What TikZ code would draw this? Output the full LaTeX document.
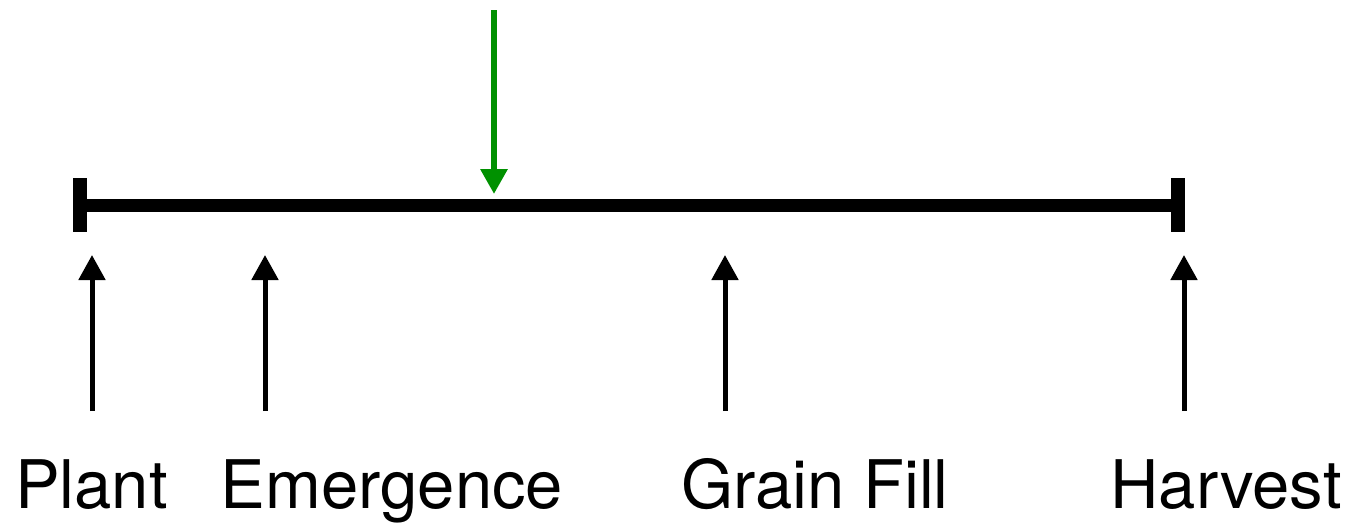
\documentclass[tikz,border=0pt]{standalone}
\usepackage{fontspec}
\setmainfont{TeX Gyre Heros}
\usetikzlibrary{arrows.meta}
\definecolor{arrowgreen}{RGB}{0,145,0}
\tikzset{
  timeline/.style={line width=6.5pt, line cap=butt},
  tickbar/.style={line width=7pt, line cap=butt},
  stagearrow/.style={line width=2.5pt, -{Triangle[length=12.5pt,width=13pt]}},
  eventarrow/.style={line width=3pt, draw=arrowgreen, -{Triangle[length=12.5pt,width=13pt]}},
  stagelabel/.style={anchor=base, inner sep=0pt, font=\fontsize{33.5pt}{37pt}\selectfont}
}
\begin{document}
\begin{tikzpicture}[x=0.5pt,y=-0.5pt]
\useasboundingbox (0,0) rectangle (1357,531);
% timeline
\coordinate (start) at (80,205);
\coordinate (end) at (1178,205);
\draw[timeline] (start) -- (end);
\coordinate (st) at (80,178);
\coordinate (sb) at (80,232);
\coordinate (et) at (1178,178);
\coordinate (eb) at (1178,232);
\draw[tickbar] (st) -- (sb);
\draw[tickbar] (et) -- (eb);
% green event arrow
\coordinate (gtop) at (494,10);
\coordinate (gtip) at (494,194);
\draw[eventarrow] (gtop) -- (gtip);
% stage arrows
\coordinate (pb) at (92,411);  \coordinate (pt) at (92,255);
\coordinate (eb2) at (265,411); \coordinate (et2) at (265,255);
\coordinate (gb) at (725,411); \coordinate (gt) at (725,255);
\coordinate (hb) at (1184,411); \coordinate (ht) at (1184,255);
\draw[stagearrow] (pb) -- (pt);
\draw[stagearrow] (eb2) -- (et2);
\draw[stagearrow] (gb) -- (gt);
\draw[stagearrow] (hb) -- (ht);
% labels
\node[stagelabel] (plant) at (91.5,508) {Plant};
\node[stagelabel] (emerg) at (392,508) {Emergence};
\node[stagelabel] (grain) at (815,508) {Grain Fill};
\node[stagelabel] (harv) at (1226,508) {Harvest};
\end{tikzpicture}
\end{document}
